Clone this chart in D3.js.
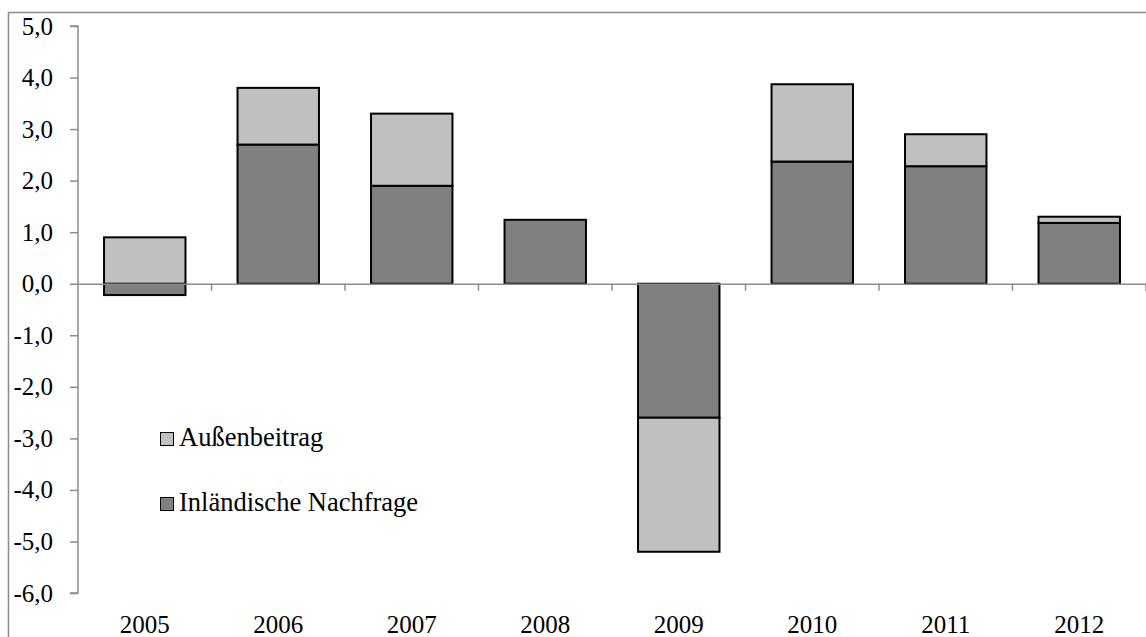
<!DOCTYPE html>
<html><head><meta charset="utf-8">
<script src="https://cdn.jsdelivr.net/npm/d3@7"></script>
<style>body{margin:0;background:#fff;} svg{display:block;} text{font-family:'Liberation Serif','Times New Roman',serif;}</style>
</head><body>
<svg id="chart" width="1146" height="637"></svg>
<script>
const years = ["2005","2006","2007","2008","2009","2010","2011","2012"];
const inland = [-0.22, 2.70, 1.90, 1.24, -2.60, 2.37, 2.28, 1.18];
const aussen = [0.90, 1.10, 1.40, 0.00, -2.60, 1.50, 0.62, 0.12];
const yTicks = [5,4,3,2,1,0,-1,-2,-3,-4,-5,-6];
const seriesNames = ["Außenbeitrag","Inländische Nachfrage"];
const colors = {inland:"#808080", aussen:"#c0c0c0"};

const svg = d3.select("#chart");
const font = "'Liberation Serif','Times New Roman',serif";
const fs = "25px";
// outer frame
svg.append("rect").attr("x",8.5).attr("y",12.5).attr("width",1160).attr("height",640)
  .attr("fill","none").attr("stroke","#8c8c8c").attr("stroke-width",1.5);

const x0 = 78, x1 = 1146, yTop = 26, yBot = 593;
const x = d3.scaleBand().domain(years).range([x0,x1]).paddingInner(0.39).paddingOuter(0.195);
const xb = d3.scaleBand().domain(years).range([x0,x1]);
const y = d3.scaleLinear().domain([-6,5]).range([yBot,yTop]);

// stacked data (positives upward, negatives downward)
const rows = years.map((yr,i)=>{
  let pos=0, neg=0;
  const segs=[];
  [["inland",inland[i]],["aussen",aussen[i]]].forEach(([k,v])=>{
    if(v>=0){segs.push({k,v0:pos,v1:pos+v}); pos+=v;}
    else {segs.push({k,v0:neg,v1:neg+v}); neg+=v;}
  });
  return {yr,segs};
});

const g = svg.append("g");
rows.forEach(r=>{
  r.segs.forEach(s=>{
    if(Math.abs(s.v1-s.v0)<1e-9) return;
    g.append("rect").attr("x",x(r.yr)).attr("width",x.bandwidth())
      .attr("y",y(Math.max(s.v0,s.v1))).attr("height",Math.abs(y(s.v0)-y(s.v1)))
      .attr("fill",colors[s.k]).attr("stroke","#000").attr("stroke-width",2);
  });
});

// y axis
const yAxis = d3.axisLeft(y).tickValues(yTicks).tickSize(8).tickPadding(17)
  .tickFormat(d=>d3.format(".1f")(d).replace("\u2212","-").replace(".",","));
const ya = svg.append("g").attr("transform",`translate(${x0},0)`).call(yAxis)
  .attr("font-family",null).attr("font-size",null);
ya.select(".domain").attr("stroke","#8c8c8c").attr("stroke-width",1.5).attr("d",`M-8,${yTop}H0V${yBot}H-8`);
ya.selectAll(".tick line").attr("stroke","#8c8c8c").attr("stroke-width",1.5);
ya.selectAll(".tick text").style("font-family",font).style("font-size",fs).attr("fill","#000");

// x axis at zero
const xAxis = d3.axisBottom(xb).tickSize(0).tickFormat("");
const xa = svg.append("g").attr("transform",`translate(0,${y(0)})`).call(xAxis);
xa.select(".domain").attr("stroke","#8c8c8c").attr("stroke-width",1.5);
const bounds = years.map(yr=>xb(yr)).concat([x1]);
xa.selectAll(".sep").data(bounds.slice(1)).enter().append("line")
  .attr("x1",d=>d).attr("x2",d=>d).attr("y1",0).attr("y2",7)
  .attr("stroke","#8c8c8c").attr("stroke-width",1.5);

// year labels at bottom
svg.append("g").selectAll("text").data(years).enter().append("text")
  .attr("x",d=>xb(d)+xb.bandwidth()/2).attr("y",633)
  .attr("text-anchor","middle").style("font-family",font).style("font-size",fs).text(d=>d);

// legend
const leg = svg.append("g");
[[seriesNames[0],colors.aussen,432],[seriesNames[1],colors.inland,497]].forEach(([t,c,yy])=>{
  leg.append("rect").attr("x",160.5).attr("y",yy+0.5).attr("width",13).attr("height",13)
    .attr("fill",c).attr("stroke","#000").attr("stroke-width",1);
  leg.append("text").attr("x",179).attr("y",yy+13.5).style("font-family",font).style("font-size","26.5px").text(t);
});
</script>
</body></html>
